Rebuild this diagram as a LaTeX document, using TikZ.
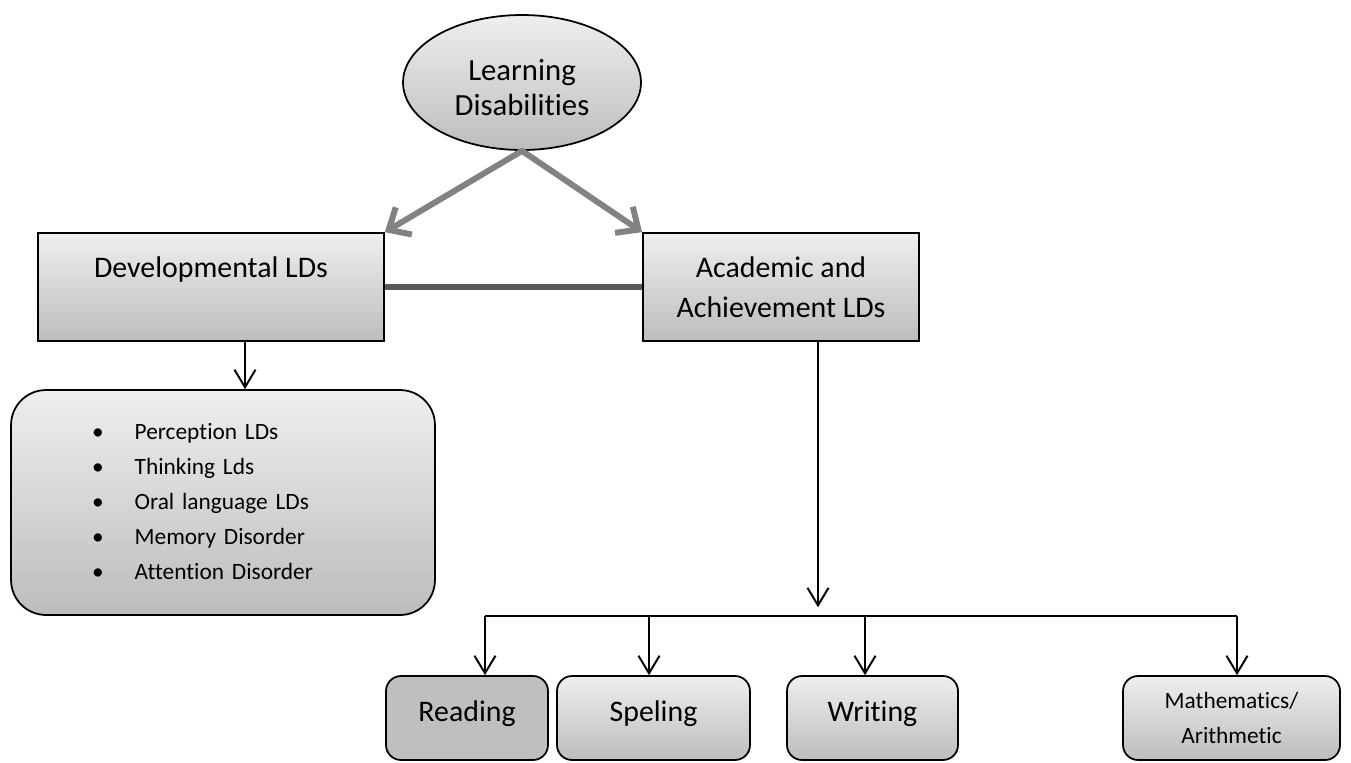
\documentclass[tikz,border=0pt]{standalone}
\usepackage{fontspec}
\setmainfont{Carlito}[Ligatures=NoCommon]
\usepackage{tikz}
\usetikzlibrary{positioning, shapes.geometric, arrows.meta}

\begin{document}
\begin{tikzpicture}[x=0.02cm, y=-0.02cm,
  bigfont/.style={font=\fontsize{17}{22.7}\selectfont},
  smallfont/.style={font=\fontsize{13.3}{19.8}\selectfont},
  shade box/.style={draw=black, line width=1pt, top color=gray!13, bottom color=gray!52},
  topbox/.style={shade box, rectangle, bigfont, align=center, inner sep=0pt,
    minimum height=2.16cm},
  leafbox/.style={shade box, rounded corners=0.3cm, align=center, inner sep=0pt,
    minimum height=1.68cm},
  thin arrow/.style={line width=1.1pt, -{Straight Barb[length=10pt, width=12pt, line width=1.1pt]}},
  gray arrow/.style={draw=gray!98, line width=3.4pt, line cap=round,
    -{Straight Barb[length=10pt, width=18pt, line width=3.4pt]}}
]
\useasboundingbox (0,0) rectangle (1351,762);

% top of the tree
\node [shade box, ellipse, font=\fontsize{17.5}{20}\selectfont, inner sep=0pt,
  minimum width=4.76cm, minimum height=2.7cm] (ld) at (522,82.5)
  {\raisebox{-9.2pt}[0pt][0pt]{\begin{tabular}{@{}c@{}}Learning\\Disabilities\end{tabular}}};
\node [topbox, minimum width=6.92cm] (dev) at (211,287) {Developmental LDs\\\mbox{}};
\node [topbox, minimum width=5.52cm] (acad) at (781,287) {Academic and\\Achievement LDs};
\draw [gray arrow] (ld.south) -- (dev.north east);
\draw [gray arrow] (ld.south) -- (acad.north west);
\draw [draw=black!65, line width=3.4pt] (dev.east) -- (acad.west);

% developmental list
\node [shade box, rounded corners=0.7cm, smallfont, inner sep=0pt,
  minimum width=8.48cm, minimum height=4.5cm, text width=8.48cm, align=left]
  (list) at (223,502.5)
  {\hspace*{1.62cm}\begin{tabular}{@{}l@{\hspace{0.62cm}}l@{}}
    \textbullet & Perception LDs\\
    \textbullet & Thinking Lds\\
    \textbullet & Oral language LDs\\
    \textbullet & Memory Disorder\\
    \textbullet & Attention Disorder
  \end{tabular}};
\coordinate (dv) at (245,0);
\draw [thin arrow] (dv |- dev.south) -- (dv |- list.north);

% academic branches
\node [leafbox, bigfont, minimum width=3.24cm, top color=gray!50, bottom color=gray!50] (rd) at (467,718) {Reading\\[-14.7pt]\mbox{}};
\node [leafbox, bigfont, minimum width=3.86cm] (sp) at (653.5,718) {Speling\\[-14.7pt]\mbox{}};
\node [leafbox, bigfont, minimum width=3.42cm] (wr) at (872.5,718) {Writing\\[-14.7pt]\mbox{}};
\node [leafbox, smallfont, minimum width=4.34cm] (mt) at (1231.5,718) {Mathematics/\\Arithmetic};

\coordinate (hub) at (818,616);
\coordinate (b1) at (485,616);
\coordinate (b2) at (649,616);
\coordinate (b3) at (865,616);
\coordinate (b4) at (1237,616);
\draw [thin arrow, shorten >=5pt] (hub |- acad.south) -- (hub);
\draw [line width=1.1pt] (b1) -- (b4);
\draw [thin arrow] (b1) -- (b1 |- rd.north);
\draw [thin arrow] (b2) -- (b2 |- sp.north);
\draw [thin arrow] (b3) -- (b3 |- wr.north);
\draw [thin arrow] (b4) -- (b4 |- mt.north);
\end{tikzpicture}
\end{document}
